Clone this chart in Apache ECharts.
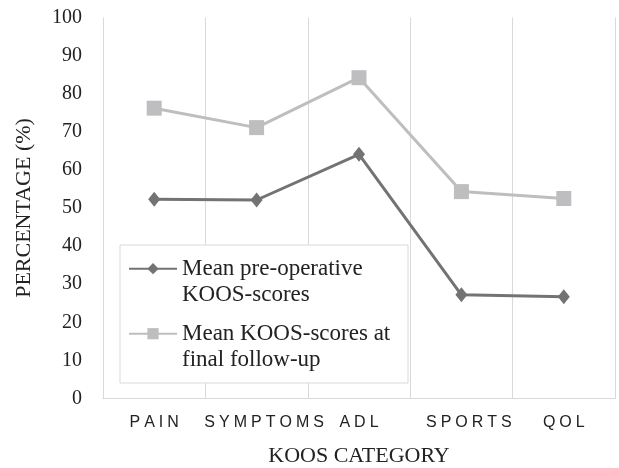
<!DOCTYPE html>
<html>
<head>
<meta charset="utf-8">
<script src="https://cdn.jsdelivr.net/npm/echarts@6/dist/echarts.min.js"></script>
<style>html,body{margin:0;padding:0;background:#fff}#c{width:619px;height:468px}</style>
</head>
<body>
<div id="c"></div>
<script>
var categories = ['PAIN', 'SYMPTOMS', 'ADL', 'SPORTS', 'QOL'];
var preOp = [52.3, 52.1, 64.1, 27.2, 26.7];
var finalFU = [76.2, 71.1, 84.2, 54.3, 52.5];
var seriesNames = ['Mean pre-operative\nKOOS-scores', 'Mean KOOS-scores at\nfinal follow-up'];
var yTicks = [0, 10, 20, 30, 40, 50, 60, 70, 80, 90, 100];

var serif = '"Liberation Serif", "Times New Roman", serif';
var sans = '"Liberation Sans", Arial, sans-serif';
var chart = echarts.init(document.getElementById('c'));
chart.setOption({
  animation: false,
  backgroundColor: '#fff',
  grid: {left: 103, right: 4, top: 17.5, bottom: 69.5, containLabel: false, outerBoundsMode: 'none'},
  xAxis: {
    type: 'category',
    data: categories,
    boundaryGap: true,
    name: 'KOOS CATEGORY',
    nameLocation: 'middle',
    nameGap: 47,
    nameTextStyle: {fontFamily: serif, fontSize: 22, color: '#222'},
    axisLine: {show: true, lineStyle: {color: '#d9d9d9', width: 1}},
    axisTick: {show: false},
    splitLine: {show: true, lineStyle: {color: '#d9d9d9', width: 1}},
    axisLabel: {
      interval: 0,
      margin: 16,
      fontFamily: sans,
      fontSize: 16,
      color: '#222',
      formatter: function (v, i) {
        var t = v.split('').join('\u2005');
        return (i === 1 || i === 3) ? '{p|' + t + '}' : t;
      },
      rich: {p: {fontFamily: sans, fontSize: 16, color: '#222', padding: [0, 0, 0, 15]}}
    }
  },
  yAxis: {
    type: 'value',
    min: yTicks[0],
    max: yTicks[yTicks.length - 1],
    interval: 10,
    name: 'PERCENTAGE (%)',
    nameLocation: 'middle',
    nameGap: 68,
    nameTextStyle: {fontFamily: serif, fontSize: 22, color: '#222'},
    axisLine: {show: false},
    axisTick: {show: false},
    splitLine: {show: false},
    axisLabel: {margin: 21, fontFamily: serif, fontSize: 20, color: '#222'}
  },
  graphic: [{
    type: 'rect', z: 1, silent: true,
    shape: {x: 120, y: 245, width: 288, height: 138},
    style: {fill: '#fff', stroke: '#d9d9d9', lineWidth: 1}
  }],
  legend: {
    orient: 'vertical',
    left: 128,
    top: 229.7,
    padding: 0,
    itemGap: -13,
    itemWidth: 48,
    itemHeight: 14,
    z: 5,
    formatter: function (n) { return '\n' + n; },
    textStyle: {fontFamily: serif, fontSize: 23, lineHeight: 26, color: '#222'},
    data: seriesNames
  },
  series: [{
    name: seriesNames[0],
    type: 'line',
    data: preOp,
    symbol: 'diamond',
    symbolSize: [12, 15],
    lineStyle: {color: '#737373', width: 3},
    itemStyle: {color: '#737373'},
    z: 3
  }, {
    name: seriesNames[1],
    type: 'line',
    data: finalFU,
    symbol: 'rect',
    symbolSize: 15,
    lineStyle: {color: '#bebec1', width: 3},
    itemStyle: {color: '#bebec1'},
    z: 3
  }]
});
</script>
</body>
</html>
